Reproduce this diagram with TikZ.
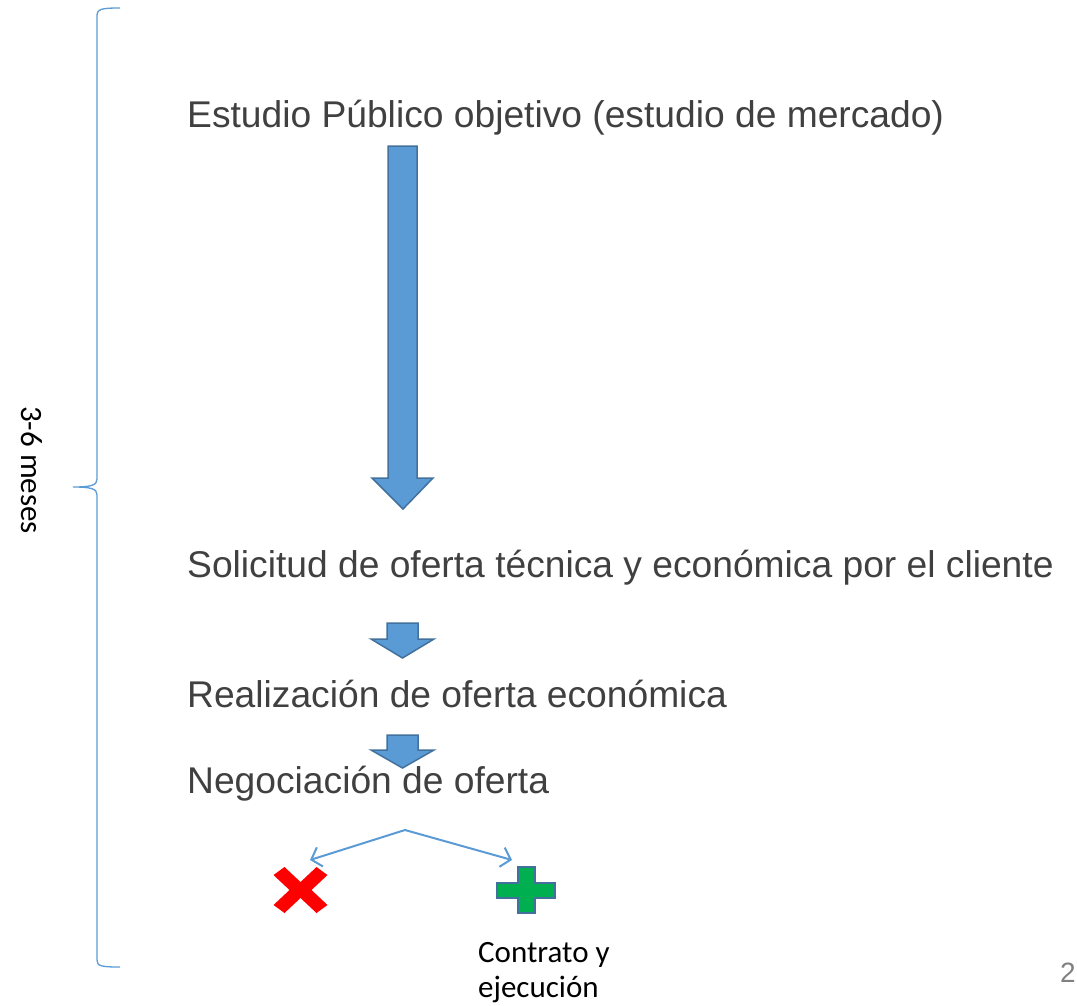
\documentclass[tikz,border=0pt]{standalone}
\usepackage{fontspec}
\setmainfont{Liberation Sans}
\newfontfamily\calib{Carlito}
\usetikzlibrary{arrows.meta}
\definecolor{arrfill}{HTML}{5B9BD5}
\definecolor{arrdraw}{HTML}{41719C}
\definecolor{txtgray}{HTML}{404040}
\definecolor{plusgreen}{HTML}{00B050}
\tikzset{
  steptext/.style={anchor=base west, inner sep=0pt, text=txtgray, font=\fontsize{37.2}{44}\selectfont},
  blockarrow/.style={fill=arrfill, draw=arrdraw, line width=1.5pt, line join=miter},
  smalltext/.style={inner sep=0pt, font=\calib\fontsize{31}{35}\selectfont, text=black},
  branch/.style={draw=arrfill, line width=2pt, -{Straight Barb[length=9pt,width=20pt,line width=2pt]}}
}
\begin{document}
\begin{tikzpicture}[x=1pt,y=-1pt]
\useasboundingbox (0,0) rectangle (1077,1005);
% brace
\draw[arrfill, line width=1.3pt]
  (120,8) .. controls (101,8) and (97,9) .. (97,16) -- (97,479)
  .. controls (97,485) and (92,487) .. (73,487)
  .. controls (92,487) and (97,489) .. (97,495) -- (97,960)
  .. controls (97,966) and (101,967) .. (120,967);
\node[smalltext, rotate=-90] (dur) at (32,470) {3-6 meses};

% texts
\node[steptext] (s1) at (187,127) {Estudio Público objetivo (estudio de mercado)};
\node[steptext] (s2) at (187,577) {Solicitud de oferta técnica y económica por el cliente};
\node[steptext] (s3) at (187,707) {Realización de oferta económica};
\node[steptext] (s4) at (187,793) {Negociación de oferta};

% big arrow
\draw[blockarrow] (388,146) -- (417,146) -- (417,478) -- (433,478) -- (403,509) -- (372,478) -- (388,478) -- cycle;
% small arrows
\draw[blockarrow] (387,623) -- (418,623) -- (418,639) -- (434,639) -- (402.5,658) -- (371,639) -- (387,639) -- cycle;
\draw[blockarrow] (387,735) -- (418,735) -- (418,750) -- (434,750) -- (402.5,768) -- (371,750) -- (387,750) -- cycle;

% branches
\coordinate (apex) at (405,830);
\coordinate (lend) at (310,860);
\coordinate (rend) at (512,860);
\draw[branch] (apex) -- (lend);
\draw[branch] (apex) -- (rend);

% red X
\begin{scope}[shift={(300.5,890)}]
  \fill[red] (-27,-15) -- (-16,-23) -- (0,-8) -- (16,-23) -- (27,-15) -- (11,0) -- (27,15) -- (16,23) -- (0,8) -- (-16,23) -- (-27,15) -- (-11,0) -- cycle;
\end{scope}
% green plus
\draw[fill=plusgreen, draw=arrdraw, line width=1.5pt]
  (518,867) -- (535,867) -- (535,883) -- (555,883) -- (555,898) -- (535,898) -- (535,913) -- (518,913) -- (518,898) -- (497,898) -- (497,883) -- (518,883) -- cycle;

\node[smalltext, anchor=base west] (c1) at (478,962) {Contrato y};
\node[smalltext, anchor=base west] (c2) at (478,997) {ejecución};

\node[anchor=base west, inner sep=0pt, text=gray, font=\fontsize{28}{30}\selectfont] (pg) at (1060,982) {2};
\end{tikzpicture}
\end{document}
